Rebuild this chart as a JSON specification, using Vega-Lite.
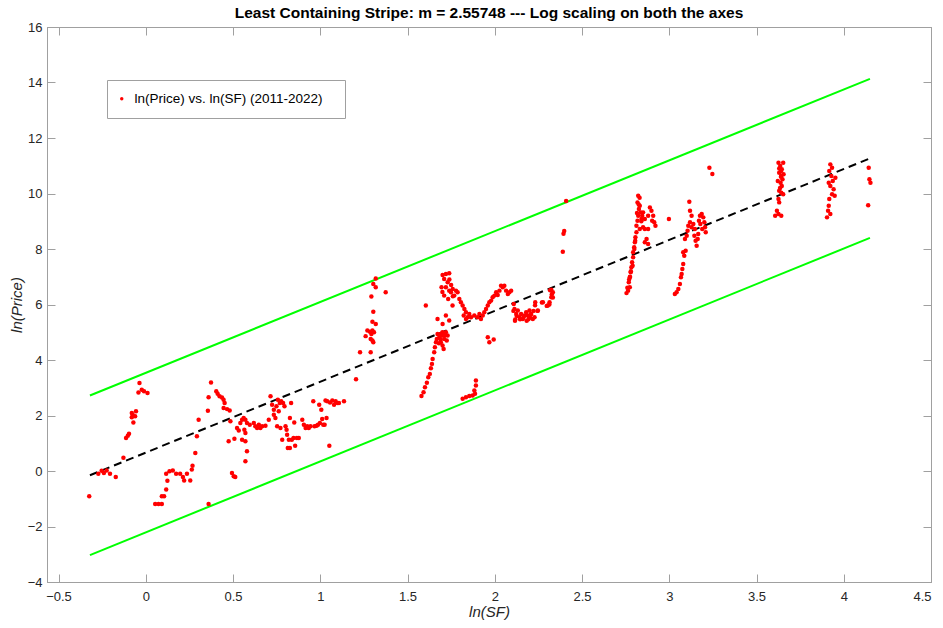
{
  "$schema": "https://vega.github.io/schema/vega-lite/v6.json",
  "width": 884,
  "height": 555,
  "autosize": {"type": "none"},
  "padding": {"left": 47, "top": 27, "right": 12, "bottom": 46},
  "background": "white",
  "title": {
    "text": "Least Containing Stripe: m = 2.55748 --- Log scaling on both the axes",
    "font": "Liberation Sans",
    "fontSize": 15.5,
    "fontWeight": "bold",
    "color": "#000000",
    "anchor": "middle",
    "offset": 0
  },
  "config": {
    "view": {"stroke": "#a0a0a0"},
    "axis": {
      "grid": false,
      "domainColor": "#a0a0a0",
      "tickColor": "#a0a0a0",
      "tickSize": -8,
      "labelFont": "Liberation Sans",
      "labelFontSize": 13,
      "labelColor": "#262626",
      "titleFont": "Liberation Sans",
      "titleFontSize": 15,
      "titleFontStyle": "italic",
      "titleFontWeight": "normal",
      "titleColor": "#262626"
    }
  },
  "datasets": {
    "stripe": [
      {"g": "upper", "x": -0.32, "y": 2.72},
      {"g": "upper", "x": 4.15, "y": 14.13},
      {"g": "lower", "x": -0.32, "y": -3.03},
      {"g": "lower", "x": 4.15, "y": 8.4}
    ],
    "mid": [
      {"x": -0.32, "y": -0.155},
      {"x": 4.15, "y": 11.265}
    ],
    "pts": [
      {"x":-0.324,"y":-0.91},{"x":-0.272,"y":-0.10},{"x":-0.253,"y":0.01},{"x":-0.24,"y":-0.07},{"x":-0.224,"y":0.02},{"x":-0.205,"y":-0.10},{"x":-0.172,"y":-0.22},{"x":-0.128,"y":0.48},{"x":-0.113,"y":1.19},{"x":-0.103,"y":1.27},{"x":-0.096,"y":1.34},{"x":-0.08,"y":1.94},{"x":-0.075,"y":2.03},{"x":-0.071,"y":1.75},{"x":-0.08,"y":2.09},{"x":-0.061,"y":1.97},{"x":-0.056,"y":2.15},{"x":-0.042,"y":2.83},{"x":-0.036,"y":3.17},{"x":-0.023,"y":2.93},{"x":-0.01,"y":2.87},{"x":0.01,"y":2.81},
      {"x":0.054,"y":-1.19},{"x":0.073,"y":-1.19},{"x":0.092,"y":-1.19},{"x":0.092,"y":-0.91},{"x":0.105,"y":-0.91},{"x":0.117,"y":-0.67},{"x":0.124,"y":-0.35},{"x":0.117,"y":-0.10},{"x":0.136,"y":-0.01},{"x":0.155,"y":0.02},{"x":0.174,"y":-0.10},{"x":0.197,"y":-0.10},{"x":0.213,"y":-0.22},{"x":0.22,"y":-0.34},{"x":0.236,"y":-0.10},{"x":0.255,"y":-0.34},{"x":0.264,"y":0.05},{"x":0.268,"y":0.19},{"x":0.284,"y":0.65},{"x":0.293,"y":1.25},{"x":0.303,"y":1.85},{"x":0.356,"y":2.17},{"x":0.36,"y":-1.19},{"x":0.36,"y":2.66},{"x":0.374,"y":3.19},{"x":0.404,"y":2.87},{"x":0.412,"y":2.78},{"x":0.423,"y":2.69},{"x":0.437,"y":2.65},{"x":0.446,"y":2.57},{"x":0.452,"y":2.45},{"x":0.446,"y":2.27},{"x":0.466,"y":2.23},{"x":0.481,"y":2.18},{"x":0.485,"y":1.79},{"x":0.475,"y":1.07},{"x":0.494,"y":-0.07},{"x":0.504,"y":-0.19},{"x":0.513,"y":-0.22},{"x":0.508,"y":1.16},{"x":0.523,"y":1.55},{"x":0.533,"y":1.46},{"x":0.542,"y":1.73},{"x":0.552,"y":1.85},{"x":0.561,"y":1.91},{"x":0.571,"y":1.85},{"x":0.58,"y":1.73},{"x":0.565,"y":1.49},{"x":0.571,"y":1.37},{"x":0.552,"y":1.13},{"x":0.571,"y":1.07},{"x":0.58,"y":0.71},{"x":0.571,"y":0.35},{"x":0.596,"y":1.67},{"x":0.619,"y":1.73},{"x":0.628,"y":1.61},{"x":0.638,"y":1.55},{"x":0.648,"y":1.67},{"x":0.657,"y":1.55},{"x":0.667,"y":1.61},{"x":0.686,"y":1.63},{"x":0.705,"y":1.85},{"x":0.715,"y":2.69},{"x":0.724,"y":2.39},{"x":0.734,"y":2.21},{"x":0.734,"y":2.03},{"x":0.743,"y":1.91},{"x":0.749,"y":2.33},{"x":0.757,"y":2.57},{"x":0.762,"y":2.15},{"x":0.768,"y":2.45},{"x":0.776,"y":2.51},{"x":0.787,"y":2.45},{"x":0.795,"y":2.33},{"x":0.753,"y":1.61},{"x":0.772,"y":1.55},{"x":0.782,"y":1.13},{"x":0.801,"y":1.61},{"x":0.807,"y":1.49},{"x":0.81,"y":1.31},{"x":0.82,"y":1.13},{"x":0.814,"y":0.83},{"x":0.826,"y":0.83},{"x":0.833,"y":2.45},{"x":0.826,"y":1.91},{"x":0.837,"y":1.13},{"x":0.847,"y":1.19},{"x":0.856,"y":0.91},{"x":0.851,"y":1.75},{"x":0.866,"y":1.19},{"x":0.877,"y":1.19},{"x":0.897,"y":1.85},{"x":0.906,"y":1.67},{"x":0.916,"y":1.55},{"x":0.925,"y":1.61},{"x":0.934,"y":1.55},{"x":0.944,"y":1.61},{"x":0.96,"y":2.51},{"x":0.967,"y":1.61},{"x":0.979,"y":1.63},{"x":0.987,"y":1.67},{"x":0.994,"y":2.39},{"x":0.998,"y":1.73},{"x":1.006,"y":2.21},{"x":1.011,"y":1.87},{"x":1.017,"y":1.67},{"x":1.025,"y":1.67},{"x":1.03,"y":2.54},{"x":1.036,"y":1.91},{"x":1.04,"y":2.51},{"x":1.052,"y":0.91},{"x":1.056,"y":2.47},{"x":1.069,"y":2.54},{"x":1.079,"y":2.39},{"x":1.088,"y":2.51},{"x":1.098,"y":2.45},{"x":1.107,"y":2.45},{"x":1.136,"y":2.51},{"x":1.205,"y":3.31},
      {"x":1.228,"y":4.28},{"x":1.289,"y":4.28},{"x":1.26,"y":4.86},{"x":1.27,"y":5.06},{"x":1.285,"y":5.02},{"x":1.293,"y":4.94},{"x":1.299,"y":5.06},{"x":1.308,"y":5.0},{"x":1.289,"y":4.76},{"x":1.299,"y":4.7},{"x":1.304,"y":4.64},{"x":1.318,"y":5.3},{"x":1.299,"y":5.38},{"x":1.304,"y":5.74},{"x":1.293,"y":6.29},{"x":1.304,"y":6.74},{"x":1.318,"y":6.62},{"x":1.318,"y":6.94},{"x":1.375,"y":6.44},{"x":1.605,"y":5.96},
      {"x":1.58,"y":2.7},{"x":1.592,"y":2.84},{"x":1.6,"y":3.02},{"x":1.611,"y":3.18},{"x":1.619,"y":3.38},{"x":1.628,"y":3.5},{"x":1.634,"y":3.7},{"x":1.64,"y":3.86},{"x":1.644,"y":4.04},{"x":1.653,"y":4.28},{"x":1.657,"y":4.46},{"x":1.663,"y":4.64},{"x":1.668,"y":4.76},{"x":1.672,"y":4.94},{"x":1.682,"y":4.82},{"x":1.691,"y":4.94},{"x":1.701,"y":4.88},{"x":1.711,"y":4.76},{"x":1.691,"y":4.64},{"x":1.701,"y":4.52},{"x":1.707,"y":4.4},{"x":1.72,"y":5.0},{"x":1.73,"y":4.88},{"x":1.68,"y":4.6},{"x":1.69,"y":4.75},{"x":1.70,"y":5.0},{"x":1.715,"y":4.9},{"x":1.725,"y":4.7},{"x":1.672,"y":5.48},{"x":1.701,"y":5.3},{"x":1.72,"y":5.6},{"x":1.739,"y":5.42},
      {"x":1.695,"y":6.62},{"x":1.701,"y":7.06},{"x":1.72,"y":7.1},{"x":1.739,"y":7.13},{"x":1.71,"y":6.92},{"x":1.73,"y":6.8},{"x":1.72,"y":6.62},{"x":1.739,"y":6.5},{"x":1.749,"y":6.44},{"x":1.759,"y":6.56},{"x":1.71,"y":6.32},{"x":1.733,"y":6.2},{"x":1.758,"y":5.96},{"x":1.74,"y":6.9},{"x":1.75,"y":6.7},{"x":1.7,"y":6.45},{"x":1.76,"y":6.3},{"x":1.768,"y":6.32},{"x":1.778,"y":6.5},{"x":1.787,"y":6.44},{"x":1.797,"y":6.2},{"x":1.806,"y":6.08},{"x":1.816,"y":5.96},{"x":1.826,"y":5.84},{"x":1.835,"y":5.72},{"x":1.822,"y":5.6},{"x":1.835,"y":5.48},{"x":1.845,"y":5.54},{"x":1.854,"y":5.66},{"x":1.864,"y":5.54},{"x":1.883,"y":5.6},{"x":1.902,"y":5.54},{"x":1.921,"y":5.48},{"x":1.912,"y":5.66},{"x":1.931,"y":5.6},{"x":1.94,"y":5.72},{"x":1.95,"y":5.84},{"x":1.96,"y":5.96},{"x":1.969,"y":6.08},{"x":1.979,"y":6.14},{"x":1.988,"y":6.26},{"x":1.998,"y":6.32},{"x":2.008,"y":6.44},{"x":2.017,"y":6.34},{"x":2.027,"y":6.5},{"x":2.036,"y":6.68},{"x":2.046,"y":6.62},{"x":2.055,"y":6.68},{"x":2.065,"y":6.5},{"x":2.075,"y":6.38},{"x":2.084,"y":6.44},{"x":2.094,"y":6.5},{"x":1.96,"y":4.82},{"x":1.969,"y":4.64},{"x":1.994,"y":4.74},
      {"x":2.109,"y":6.02},{"x":2.113,"y":5.84},{"x":2.123,"y":5.66},{"x":2.132,"y":5.78},{"x":2.142,"y":5.54},{"x":2.151,"y":5.66},{"x":2.161,"y":5.48},{"x":2.17,"y":5.6},{"x":2.18,"y":5.72},{"x":2.189,"y":5.6},{"x":2.199,"y":5.54},{"x":2.209,"y":5.66},{"x":2.218,"y":5.48},{"x":2.228,"y":5.54},{"x":2.199,"y":5.78},{"x":2.232,"y":6.08},{"x":2.247,"y":5.78},{"x":2.276,"y":6.08},{"x":2.304,"y":5.96},{"x":2.314,"y":6.08},{"x":2.324,"y":6.26},{"x":2.333,"y":6.44},{"x":2.324,"y":6.53},{"x":2.117,"y":5.46},
      {"x":1.816,"y":2.6},{"x":1.835,"y":2.66},{"x":1.854,"y":2.7},{"x":1.873,"y":2.72},{"x":1.883,"y":2.9},{"x":1.892,"y":3.08},{"x":1.887,"y":2.78},{"x":1.892,"y":3.26},
      {"x":2.409,"y":9.73},{"x":2.398,"y":8.65},{"x":2.394,"y":8.55},{"x":2.39,"y":7.9},{"x":2.317,"y":6.51},{"x":2.327,"y":6.37},{"x":2.333,"y":6.25},{"x":2.313,"y":6.0},{"x":2.298,"y":5.95},{"x":2.27,"y":6.07},{"x":2.231,"y":5.97},{"x":2.222,"y":5.77},{"x":2.206,"y":5.65},{"x":2.193,"y":5.47},{"x":2.165,"y":5.53},{"x":2.145,"y":5.47},{"x":2.126,"y":5.59},{"x":2.107,"y":5.77},{"x":2.116,"y":5.41},{"x":2.183,"y":5.41},{"x":2.202,"y":5.53},{"x":2.245,"y":5.77},
      {"x":3.23,"y":10.93},{"x":3.247,"y":10.7},{"x":2.998,"y":9.08},{"x":3.115,"y":9.7},{"x":3.119,"y":9.38},
      {"x":2.755,"y":6.41},{"x":2.764,"y":6.5},{"x":2.774,"y":6.62},{"x":2.768,"y":6.8},{"x":2.774,"y":6.98},{"x":2.779,"y":7.16},{"x":2.783,"y":7.34},{"x":2.787,"y":7.52},{"x":2.793,"y":7.7},{"x":2.793,"y":7.88},{"x":2.799,"y":8.06},{"x":2.803,"y":8.24},{"x":2.806,"y":8.42},{"x":2.812,"y":8.6},{"x":2.812,"y":8.84},{"x":2.818,"y":9.02},{"x":2.822,"y":9.2},{"x":2.826,"y":9.44},{"x":2.818,"y":9.68},{"x":2.822,"y":9.92},{"x":2.831,"y":9.56},{"x":2.841,"y":9.08},{"x":2.85,"y":8.78},{"x":2.831,"y":8.72},{"x":2.86,"y":8.72},{"x":2.87,"y":8.36},{"x":2.86,"y":8.24},{"x":2.879,"y":8.18},{"x":2.879,"y":8.72},{"x":2.879,"y":9.2},{"x":2.889,"y":9.5},{"x":2.898,"y":9.38},{"x":2.908,"y":9.2},{"x":2.914,"y":8.96},{"x":2.921,"y":8.84},{"x":2.902,"y":9.02},{"x":2.86,"y":9.08},{"x":2.85,"y":9.32},{"x":2.837,"y":9.32},{"x":2.76,"y":6.6},{"x":2.77,"y":6.9},{"x":2.78,"y":7.2},{"x":2.775,"y":7.0},{"x":2.79,"y":7.4},{"x":2.8,"y":8.0},{"x":2.805,"y":8.3},{"x":2.815,"y":9.3},{"x":2.825,"y":9.6},{"x":2.83,"y":9.85},{"x":2.84,"y":9.0},{"x":2.845,"y":9.2},
      {"x":3.032,"y":6.38},{"x":3.042,"y":6.44},{"x":3.052,"y":6.56},{"x":3.061,"y":6.74},{"x":3.067,"y":6.98},{"x":3.071,"y":7.1},{"x":3.075,"y":7.28},{"x":3.08,"y":7.46},{"x":3.086,"y":7.76},{"x":3.08,"y":7.88},{"x":3.094,"y":7.94},{"x":3.09,"y":8.36},{"x":3.1,"y":8.48},{"x":3.105,"y":8.66},{"x":3.109,"y":8.84},{"x":3.119,"y":8.96},{"x":3.128,"y":8.78},{"x":3.138,"y":8.9},{"x":3.147,"y":8.72},{"x":3.144,"y":8.48},{"x":3.151,"y":8.3},{"x":3.157,"y":8.12},{"x":3.163,"y":8.36},{"x":3.166,"y":8.54},{"x":3.17,"y":9.02},{"x":3.176,"y":9.2},{"x":3.186,"y":9.26},{"x":3.195,"y":9.14},{"x":3.201,"y":8.96},{"x":3.205,"y":8.78},{"x":3.209,"y":8.6},{"x":3.189,"y":8.72},{"x":3.178,"y":8.9},{"x":3.128,"y":9.2},
      {"x":3.626,"y":11.11},{"x":3.636,"y":10.99},{"x":3.645,"y":10.87},{"x":3.63,"y":10.75},{"x":3.642,"y":10.63},{"x":3.649,"y":10.51},{"x":3.638,"y":10.39},{"x":3.645,"y":10.27},{"x":3.642,"y":10.03},{"x":3.653,"y":9.97},{"x":3.626,"y":9.8},{"x":3.63,"y":9.68},{"x":3.617,"y":9.38},{"x":3.626,"y":9.26},{"x":3.642,"y":9.2},{"x":3.607,"y":9.2},{"x":3.653,"y":11.11},{"x":3.622,"y":10.45},{"x":3.655,"y":10.69},{"x":3.63,"y":10.9},{"x":3.64,"y":10.8},{"x":3.64,"y":10.6},{"x":3.635,"y":10.2},{"x":3.63,"y":10.1},
      {"x":3.923,"y":11.05},{"x":3.933,"y":10.93},{"x":3.917,"y":10.81},{"x":3.929,"y":10.63},{"x":3.937,"y":10.45},{"x":3.923,"y":10.27},{"x":3.942,"y":10.15},{"x":3.933,"y":9.97},{"x":3.917,"y":9.8},{"x":3.914,"y":9.56},{"x":3.91,"y":9.38},{"x":3.904,"y":9.14},{"x":3.923,"y":9.26},{"x":3.948,"y":9.92},{"x":3.914,"y":10.39},{"x":3.952,"y":10.57},
      {"x":4.143,"y":10.93},{"x":4.147,"y":10.51},{"x":4.153,"y":10.39},{"x":4.14,"y":9.58}
    ]
  },
  "layer": [
    {
      "data": {"name": "stripe"},
      "mark": {"type": "line", "color": "#00ff00", "strokeWidth": 2},
      "encoding": {
        "x": {"field": "x", "type": "quantitative", "scale": {"domain": [-0.566, 4.5], "nice": false, "zero": false},
              "axis": {"orient": "top", "labels": false, "title": null, "values": [-0.5, 0, 0.5, 1, 1.5, 2, 2.5, 3, 3.5, 4, 4.5]}},
        "y": {"field": "y", "type": "quantitative", "scale": {"domain": [-4, 16], "nice": false, "zero": false},
              "axis": {"orient": "right", "labels": false, "title": null, "values": [-4, -2, 0, 2, 4, 6, 8, 10, 12, 14, 16]}},
        "detail": {"field": "g"}
      }
    },
    {
      "data": {"name": "mid"},
      "mark": {"type": "line", "color": "#000000", "strokeWidth": 2, "strokeDash": [8, 5]},
      "encoding": {
        "x": {"field": "x", "type": "quantitative", "scale": {"domain": [-0.566, 4.5], "nice": false, "zero": false}, "axis": null},
        "y": {"field": "y", "type": "quantitative", "scale": {"domain": [-4, 16], "nice": false, "zero": false}, "axis": null}
      }
    },
    {
      "data": {"name": "pts"},
      "mark": {"type": "circle", "size": 20, "opacity": 1},
      "encoding": {
        "x": {"field": "x", "type": "quantitative", "scale": {"domain": [-0.566, 4.5], "nice": false, "zero": false},
              "axis": {"orient": "bottom", "title": "ln(SF)", "format": "~g", "labelPadding": 16, "titlePadding": 1,
                       "values": [-0.5, 0, 0.5, 1, 1.5, 2, 2.5, 3, 3.5, 4, 4.5]}},
        "y": {"field": "y", "type": "quantitative", "scale": {"domain": [-4, 16], "nice": false, "zero": false},
              "axis": {"orient": "left", "title": "ln(Price)", "format": "~g", "labelPadding": 13, "titlePadding": 3,
                       "values": [-4, -2, 0, 2, 4, 6, 8, 10, 12, 14, 16]}},
        "color": {
          "datum": "ln(Price) vs. ln(SF) (2011-2022)",
          "type": "nominal",
          "scale": {"range": ["#ff0000"]},
          "legend": {
            "orient": "none",
            "legendX": 60,
            "legendY": 53,
            "title": null,
            "strokeColor": "#a0a0a0",
            "fillColor": "#ffffff",
            "padding": 12,
            "symbolType": "circle",
            "symbolSize": 12,
            "symbolOpacity": 1,
            "symbolOffset": -4,
            "labelFont": "Liberation Sans",
            "labelFontSize": 13.5,
            "labelColor": "#000000",
            "labelOffset": 6,
            "labelLimit": 0,
            "labelExpr": "datum.label + '\u2800'"
          }
        }
      }
    }
  ],
  "resolve": {"axis": {"x": "independent", "y": "independent"}}
}
